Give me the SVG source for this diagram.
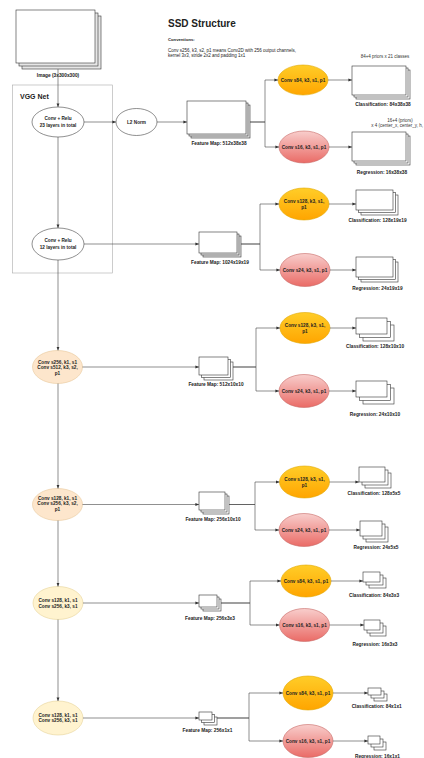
<svg xmlns="http://www.w3.org/2000/svg" width="424" height="758" viewBox="0 0 424 758">
  <defs>
    <linearGradient id="gOrange" x1="0" y1="0" x2="0" y2="1">
      <stop offset="0" stop-color="#ffcd28"/>
      <stop offset="1" stop-color="#ffa500"/>
    </linearGradient>
    <linearGradient id="gRed" x1="0" y1="0" x2="0" y2="1">
      <stop offset="0" stop-color="#f8cecc"/>
      <stop offset="1" stop-color="#ea6b66"/>
    </linearGradient>
    <marker id="ah" viewBox="0 0 6 6" refX="6" refY="3" markerWidth="3.6" markerHeight="3.6" markerUnits="userSpaceOnUse" orient="auto">
      <path d="M0,0.6 L6,3 L0,5.4 Z" fill="#333"/>
    </marker>
    <style>
      text { font-family: "Liberation Sans", Arial, sans-serif; fill: #222; }
      .lbl { font-size: 4.8px; font-weight: bold; text-anchor: middle; }
      .note { font-size: 4.5px; text-anchor: middle; fill: #333; }
      .node { font-size: 4.7px; font-weight: bold; text-anchor: middle; }
      .card { fill: #fff; stroke: #333; stroke-width: 0.6; }
      .cardb { fill: #e6e6e6; stroke: #333; stroke-width: 0.6; }
      .plain { fill: #fff; stroke: #444; stroke-width: 0.6; }
      .orange { fill: url(#gOrange); stroke: #e0a800; stroke-width: 0.6; }
      .red { fill: url(#gRed); stroke: #c86a66; stroke-width: 0.6; }
      .beige { fill: #fde6cc; stroke: #e8c79a; stroke-width: 0.6; }
      .cream { fill: #fff3cf; stroke: #e6d49a; stroke-width: 0.6; }
      .wire { fill: none; stroke: #444; stroke-width: 0.6; marker-end: url(#ah); }
    </style>
  </defs>
  <rect width="424" height="758" fill="#fff"/>

  <!-- heading and conventions -->
  <g id="title">
    <text x="168" y="26.5" style="font-size:10px;font-weight:bold">SSD Structure</text>
    <text x="168" y="40.5" style="font-size:4.2px;font-weight:bold">Conventions:</text>
    <text x="168" y="51.5" style="font-size:4.5px">Conv s256, k3, s2, p1 means Conv2D with 256 output channels,</text>
    <text x="168" y="56.5" style="font-size:4.5px">kernel 3x3, stride 2x2 and padding 1x1</text>
  </g>

  <!-- VGG backbone frame -->
  <g id="vgg">
    <rect x="12.5" y="85" width="100" height="188" fill="none" stroke="#aaa" stroke-width="0.6"/>
    <text x="20" y="98.5" style="font-size:7px;font-weight:bold">VGG Net</text>
  </g>

  <!-- input image -->
  <g id="image">
    <rect class="cardb" x="22" y="16" width="79" height="53"/>
    <rect class="cardb" x="19" y="13" width="79" height="53"/>
    <rect class="card" x="16" y="10" width="79" height="53"/>
    <text class="lbl" x="58" y="76.6">Image (3x300x300)</text>
  </g>

  <!-- backbone / extra layers -->
  <g id="conv23">
    <ellipse class="plain" cx="58" cy="122" rx="26" ry="15"/>
    <text class="node" x="58" y="119.5">Conv + Relu</text>
    <text class="node" x="58" y="126.5">23 layers in total</text>
  </g>
  <g id="l2norm">
    <ellipse class="plain" cx="136.5" cy="122" rx="20.5" ry="13.5"/>
    <text class="node" x="136.5" y="123.7">L2 Norm</text>
  </g>
  <g id="conv12">
    <ellipse class="plain" cx="58" cy="244" rx="26" ry="16"/>
    <text class="node" x="58" y="241.5">Conv + Relu</text>
    <text class="node" x="58" y="249">12 layers in total</text>
  </g>
  <g id="extra1">
    <ellipse class="beige" cx="57.5" cy="367" rx="25" ry="16.5"/>
    <text class="node" x="57.5" y="364">Conv s256, k1, s1</text>
    <text class="node" x="57.5" y="369.3">Conv s512, k3, s2,</text>
    <text class="node" x="57.5" y="374.6">p1</text>
  </g>
  <g id="extra2">
    <ellipse class="beige" cx="57.5" cy="504.5" rx="25" ry="16"/>
    <text class="node" x="57.5" y="499.7">Conv s128, k1, s1</text>
    <text class="node" x="57.5" y="505.4">Conv s256, k3, s2,</text>
    <text class="node" x="57.5" y="511.1">p1</text>
  </g>
  <g id="extra3">
    <ellipse class="cream" cx="58" cy="603" rx="25" ry="16.5"/>
    <text class="node" x="58" y="602">Conv s128, k1, s1</text>
    <text class="node" x="58" y="607.6">Conv s256, k3, s1</text>
  </g>
  <g id="extra4">
    <ellipse class="cream" cx="58" cy="718" rx="25" ry="17"/>
    <text class="node" x="58" y="716.5">Conv s128, k1, s1</text>
    <text class="node" x="58" y="722">Conv s256, k3, s1</text>
  </g>

  <!-- feature maps -->
  <g id="fmap1">
    <rect class="cardb" x="191" y="105" width="59" height="33"/>
    <rect class="cardb" x="189" y="103" width="59" height="33"/>
    <rect class="card" x="187" y="101" width="59" height="33"/>
    <text class="lbl" x="219" y="144.7">Feature Map: 512x38x38</text>
  </g>
  <g id="fmap2">
    <rect class="cardb" x="203" y="236" width="38" height="21"/>
    <rect class="cardb" x="201" y="234" width="38" height="21"/>
    <rect class="card" x="199" y="232" width="38" height="21"/>
    <text class="lbl" x="220" y="264.4">Feature Map: 1024x19x19</text>
  </g>
  <g id="fmap3">
    <rect class="card" x="204" y="362" width="29" height="18"/>
    <rect class="card" x="201.5" y="359.5" width="29" height="18"/>
    <rect class="card" x="199" y="357" width="29" height="18"/>
    <text class="lbl" x="216" y="385.7">Feature Map: 512x10x10</text>
  </g>
  <g id="fmap4">
    <rect class="card" x="203" y="496" width="26" height="18"/>
    <rect class="card" x="201" y="494" width="26" height="18"/>
    <rect class="card" x="199" y="492" width="26" height="18"/>
    <text class="lbl" x="213" y="521">Feature Map: 256x10x10</text>
  </g>
  <g id="fmap5">
    <rect class="card" x="203" y="599" width="18" height="12"/>
    <rect class="card" x="201" y="597" width="18" height="12"/>
    <rect class="card" x="199" y="595" width="18" height="12"/>
    <text class="lbl" x="210" y="620">Feature Map: 256x3x3</text>
  </g>
  <g id="fmap6">
    <rect class="card" x="204" y="717" width="13" height="8"/>
    <rect class="card" x="201.5" y="714.5" width="13" height="8"/>
    <rect class="card" x="199" y="712" width="13" height="8"/>
    <text class="lbl" x="207.5" y="731.7">Feature Map: 256x1x1</text>
  </g>

  <!-- prediction heads -->
  <g id="cls1">
    <ellipse class="orange" cx="303" cy="80" rx="25" ry="15"/>
    <text class="node" x="303" y="81.6">Conv s84, k3, s1, p1</text>
  </g>
  <g id="reg1">
    <ellipse class="red" cx="304" cy="147" rx="25" ry="16"/>
    <text class="node" x="304" y="148.6">Conv s16, k3, s1, p1</text>
  </g>
  <g id="cls2">
    <ellipse class="orange" cx="304" cy="204" rx="25" ry="16"/>
    <text class="node" x="304" y="202.6">Conv s128, k3, s1,</text>
    <text class="node" x="304" y="208.6">p1</text>
  </g>
  <g id="reg2">
    <ellipse class="red" cx="305" cy="270" rx="25" ry="16.5"/>
    <text class="node" x="305" y="271.6">Conv s24, k3, s1, p1</text>
  </g>
  <g id="cls3">
    <ellipse class="orange" cx="305" cy="328" rx="25" ry="15.5"/>
    <text class="node" x="305" y="326.6">Conv s128, k3, s1,</text>
    <text class="node" x="305" y="332.6">p1</text>
  </g>
  <g id="reg3">
    <ellipse class="red" cx="304" cy="391" rx="25" ry="16.5"/>
    <text class="node" x="304" y="392.6">Conv s24, k3, s1, p1</text>
  </g>
  <g id="cls4">
    <ellipse class="orange" cx="304.5" cy="482" rx="25" ry="16"/>
    <text class="node" x="304.5" y="480.6">Conv s128, k3, s1,</text>
    <text class="node" x="304.5" y="486.6">p1</text>
  </g>
  <g id="reg4">
    <ellipse class="red" cx="304" cy="530" rx="25" ry="16.5"/>
    <text class="node" x="304" y="531.6">Conv s24, k3, s1, p1</text>
  </g>
  <g id="cls5">
    <ellipse class="orange" cx="306" cy="581" rx="25" ry="16"/>
    <text class="node" x="306" y="582.6">Conv s84, k3, s1, p1</text>
  </g>
  <g id="reg5">
    <ellipse class="red" cx="304.5" cy="625" rx="25" ry="16.5"/>
    <text class="node" x="304.5" y="626.6">Conv s16, k3, s1, p1</text>
  </g>
  <g id="cls6">
    <ellipse class="orange" cx="308" cy="693" rx="25" ry="17"/>
    <text class="node" x="308" y="694.6">Conv s84, k3, s1, p1</text>
  </g>
  <g id="reg6">
    <ellipse class="red" cx="308" cy="741" rx="25" ry="16.5"/>
    <text class="node" x="308" y="742.6">Conv s16, k3, s1, p1</text>
  </g>

  <!-- head outputs -->
  <g id="out-cls1">
    <text class="note" x="385" y="58.3">84+4 priors x 21 classes</text>
    <rect class="card" x="356" y="70" width="54" height="29"/>
    <rect class="card" x="354" y="68" width="54" height="29"/>
    <rect class="card" x="352" y="66" width="54" height="29"/>
    <text class="lbl" x="383" y="106">Classification: 84x38x38</text>
  </g>
  <g id="out-reg1">
    <text class="note" x="400" y="122.3">16+4 (priors)</text>
    <text class="note" x="423" y="127" style="text-anchor:end">x 4 (center_x, center_y, h,</text>
    <rect class="card" x="356" y="136" width="54" height="29"/>
    <rect class="card" x="354" y="134" width="54" height="29"/>
    <rect class="card" x="352" y="132" width="54" height="29"/>
    <text class="lbl" x="382" y="173.5">Regression: 16x38x38</text>
  </g>
  <g id="out-cls2">
    <rect class="card" x="361" y="195" width="37" height="20"/>
    <rect class="card" x="358.5" y="192.5" width="37" height="20"/>
    <rect class="card" x="356" y="190" width="37" height="20"/>
    <text class="lbl" x="377.5" y="221.7">Classification: 128x19x19</text>
  </g>
  <g id="out-reg2">
    <rect class="card" x="361" y="262" width="37" height="20"/>
    <rect class="card" x="358.5" y="259.5" width="37" height="20"/>
    <rect class="card" x="356" y="257" width="37" height="20"/>
    <text class="lbl" x="377.5" y="290">Regression: 24x19x19</text>
  </g>
  <g id="out-cls3">
    <rect class="card" x="363" y="325" width="31" height="16"/>
    <rect class="card" x="359.5" y="321.5" width="31" height="16"/>
    <rect class="card" x="356" y="318" width="31" height="16"/>
    <text class="lbl" x="375" y="348.3">Classification: 128x10x10</text>
  </g>
  <g id="out-reg3">
    <rect class="card" x="363" y="388" width="31" height="16"/>
    <rect class="card" x="359.5" y="384.5" width="31" height="16"/>
    <rect class="card" x="356" y="381" width="31" height="16"/>
    <text class="lbl" x="375" y="416">Regression: 24x10x10</text>
  </g>
  <g id="out-cls4">
    <rect class="card" x="365" y="473" width="26" height="15"/>
    <rect class="card" x="362" y="470" width="26" height="15"/>
    <rect class="card" x="359" y="467" width="26" height="15"/>
    <text class="lbl" x="374" y="495">Classification: 128x5x5</text>
  </g>
  <g id="out-reg4">
    <rect class="card" x="366" y="527" width="22" height="15"/>
    <rect class="card" x="363" y="524" width="22" height="15"/>
    <rect class="card" x="360" y="521" width="22" height="15"/>
    <text class="lbl" x="376" y="549.4">Regression: 24x5x5</text>
  </g>
  <g id="out-cls5">
    <rect class="card" x="369" y="578" width="17" height="10"/>
    <rect class="card" x="366" y="575" width="17" height="10"/>
    <rect class="card" x="363" y="572" width="17" height="10"/>
    <text class="lbl" x="374" y="596.7">Classification: 84x3x3</text>
  </g>
  <g id="out-reg5">
    <rect class="card" x="370" y="626" width="16" height="10"/>
    <rect class="card" x="367" y="623" width="16" height="10"/>
    <rect class="card" x="364" y="620" width="16" height="10"/>
    <text class="lbl" x="375" y="646">Regression: 16x3x3</text>
  </g>
  <g id="out-cls6">
    <rect class="card" x="374" y="694" width="13" height="7"/>
    <rect class="card" x="371" y="691" width="13" height="7"/>
    <rect class="card" x="368" y="688" width="13" height="7"/>
    <text class="lbl" x="376.7" y="708.4">Classification: 84x1x1</text>
  </g>
  <g id="out-reg6">
    <rect class="card" x="374" y="742" width="12" height="8"/>
    <rect class="card" x="371" y="739" width="12" height="8"/>
    <rect class="card" x="368" y="736" width="12" height="8"/>
    <text class="lbl" x="377.5" y="757.5">Regression: 16x1x1</text>
  </g>

  <!-- connectors -->
  <g id="connectors">
    <path class="wire" d="M58,69 V107"/>
    <path class="wire" d="M58,137 V228"/>
    <path class="wire" d="M58,260 V350.5"/>
    <path class="wire" d="M58,383.5 V488.5"/>
    <path class="wire" d="M58,520.5 V586.5"/>
    <path class="wire" d="M58,619.5 V701"/>

    <path class="wire" d="M84,122 H116"/>
    <path class="wire" d="M157,122 H187"/>
    <path class="wire" d="M84,244 H199"/>
    <path class="wire" d="M82.5,367 H199"/>
    <path class="wire" d="M82.5,504.5 H199"/>
    <path class="wire" d="M83,603 H199"/>
    <path class="wire" d="M83,718 H199"/>

    <path class="wire" d="M250,122 H265 V80 H278"/>
    <path class="wire" d="M250,122 H265 V147 H279"/>
    <path class="wire" d="M241,244 H260 V204 H279"/>
    <path class="wire" d="M241,244 H260 V270 H280"/>
    <path class="wire" d="M233,367 H256 V328 H280"/>
    <path class="wire" d="M233,367 H256 V391 H279"/>
    <path class="wire" d="M229,504.5 H255 V482 H279.5"/>
    <path class="wire" d="M229,504.5 H255 V530 H279"/>
    <path class="wire" d="M221,603 H250 V581 H281"/>
    <path class="wire" d="M221,603 H250 V625 H279.5"/>
    <path class="wire" d="M217,718 H249 V693 H283"/>
    <path class="wire" d="M217,718 H249 V741 H283"/>

    <path class="wire" d="M328,80 H352"/>
    <path class="wire" d="M329,147 H352"/>
    <path class="wire" d="M329,204 H356"/>
    <path class="wire" d="M330,270 H356"/>
    <path class="wire" d="M330,328 H356"/>
    <path class="wire" d="M329,391 H356"/>
    <path class="wire" d="M329.5,482 H359"/>
    <path class="wire" d="M329,530 H360"/>
    <path class="wire" d="M331,581 H363"/>
    <path class="wire" d="M329.5,625 H364"/>
    <path class="wire" d="M333,693 H368"/>
    <path class="wire" d="M333,741 H368"/>
  </g>
</svg>
